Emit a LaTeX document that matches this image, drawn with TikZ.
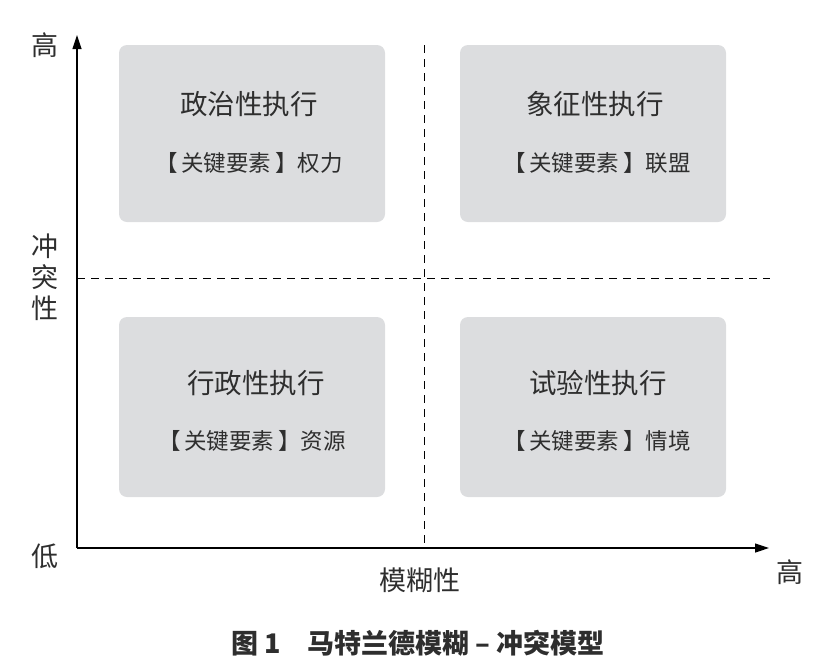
\documentclass[tikz,border=0pt]{standalone}
\usepackage{fontspec}
\setmainfont{Noto Sans CJK SC}
\newfontfamily\cjk{Noto Sans CJK SC}
\usetikzlibrary{arrows.meta}
\definecolor{boxgray}{HTML}{DCDDDF}
\definecolor{inkgray}{HTML}{2E2E2E}
\tikzset{
    quad/.style={fill=boxgray, rounded corners=8pt, minimum width=266pt, minimum height=177pt, inner sep=0pt},
    qtitle/.style={text=inkgray, font=\cjk\fontsize{27.5}{27.5}\selectfont},
    qkey/.style={text=inkgray, font=\cjk\fontsize{22.5}{22.5}\selectfont},
    axlabel/.style={text=inkgray, font=\cjk\fontsize{27}{27}\selectfont},
}
\begin{document}
\begin{tikzpicture}[x=1pt, y=-1pt]
    \useasboundingbox (0,0) rectangle (832,670);

    % Quadrants
    \node[quad, minimum height=177pt] (tl) at (252,133.5) {};
    \node[quad, minimum height=177pt] (tr) at (593,133.5) {};
    \node[quad, minimum height=180pt] (bl) at (252,407) {};
    \node[quad, minimum height=180pt] (br) at (593,407) {};

    % Quadrant texts
    \node[qtitle] (tlt) at (249,104) {政治性执行};
    \node[qkey]   (tlk) at (249,163) {【\,关键要素\,】权力};
    \node[qtitle] (trt) at (595,104) {象征性执行};
    \node[qkey]   (trk) at (597,163) {【\,关键要素\,】联盟};
    \node[qtitle] (blt) at (256,383) {行政性执行};
    \node[qkey]   (blk) at (252,441) {【\,关键要素\,】资源};
    \node[qtitle] (brt) at (598,383) {试验性执行};
    \node[qkey]   (brk) at (597,441) {【\,关键要素\,】情境};

    % Axes
    \coordinate (o) at (77,548);
    \coordinate (ytop) at (77,35);
    \coordinate (xend) at (769,548);
    \draw[line width=1.2pt, -{Triangle[length=14pt, width=9pt]}] (o) -- (ytop);
    \draw[line width=1.2pt, -{Triangle[length=14pt, width=9pt]}] (o) -- (xend);

    % Dividers
    \coordinate (hl) at (77,278);
    \coordinate (hr) at (770,278);
    \coordinate (vt) at (424,45);
    \coordinate (vb) at (424,548);
    \draw[dashed, line width=1pt, dash pattern=on 8pt off 6pt] (hl) -- (hr);
    \draw[dashed, line width=1pt, dash pattern=on 8pt off 6pt] (vt) -- (vb);

    % Axis labels
    \node[axlabel] (yhigh) at (45,45) {高};
    \node[axlabel, align=center, inner sep=0pt] (ylab) at (45,277) {冲\\[4pt]突\\[4pt]性};
    \node[axlabel] (ylow) at (45,556) {低};
    \node[axlabel] (xhigh) at (790,572) {高};
    \node[axlabel] (xlab) at (420,580) {模糊性};

    % Caption
    \node[text=inkgray, font=\cjk\bfseries\fontsize{27}{27}\selectfont] (cap) at (418,643) {图 1\hspace{1em}马特兰德模糊 – 冲突模型};
\end{tikzpicture}
\end{document}
